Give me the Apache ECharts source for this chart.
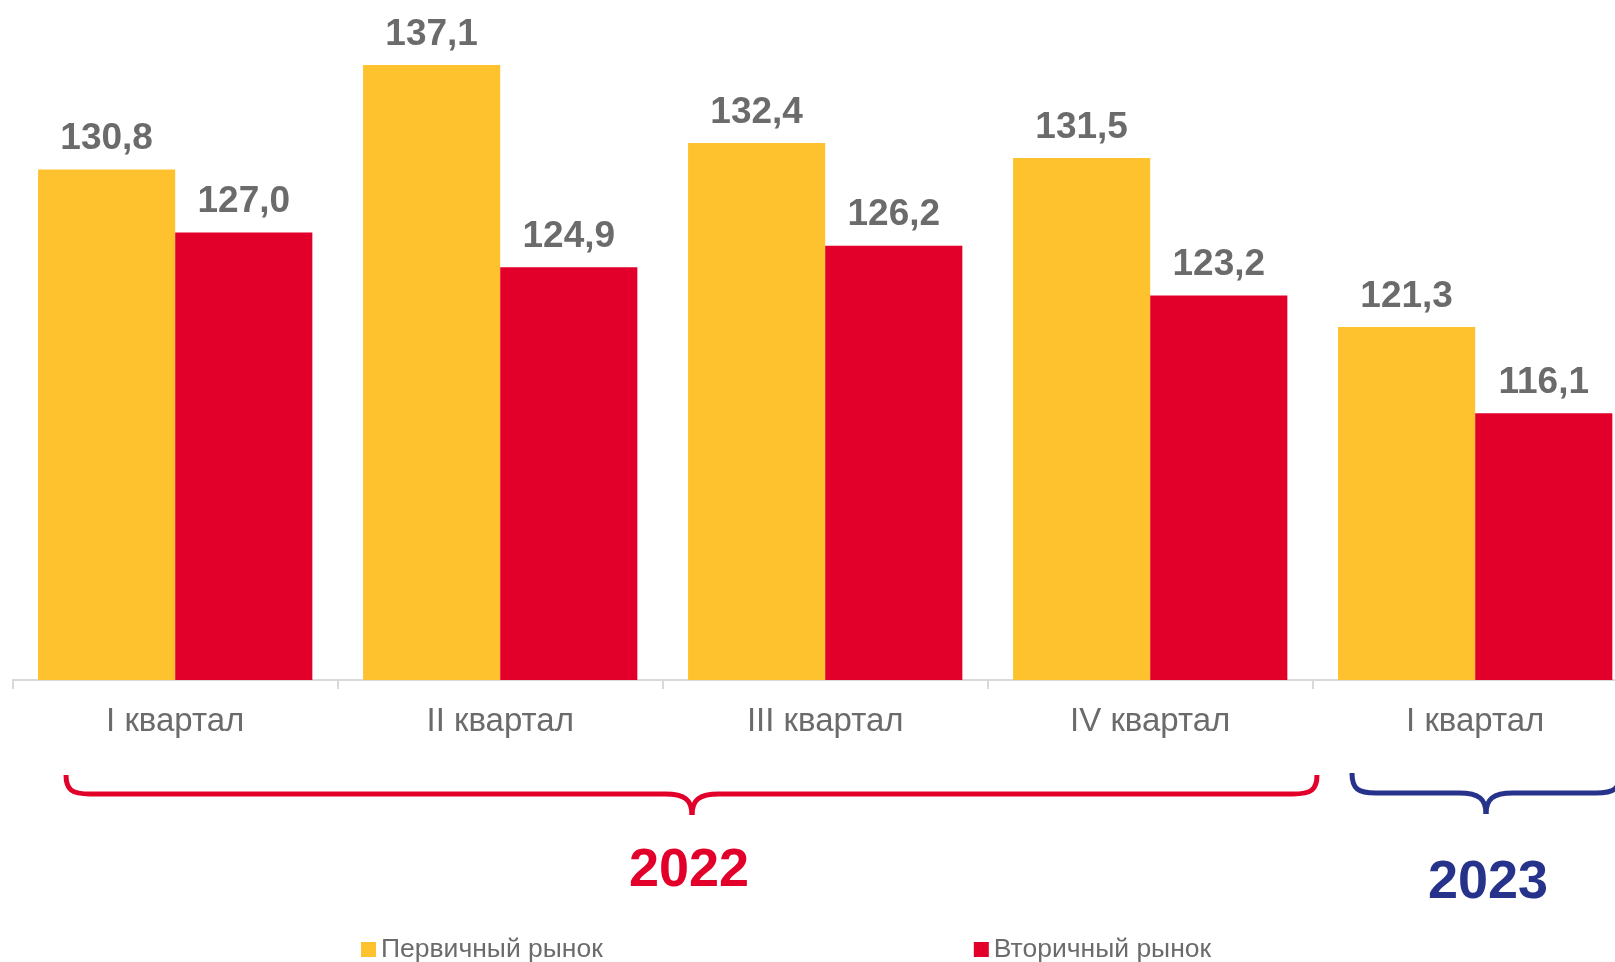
<!DOCTYPE html>
<html>
<head>
<meta charset="utf-8">
<script src="https://cdn.jsdelivr.net/npm/echarts@6.0.0/dist/echarts.min.js"></script>
<style>
  html, body { margin: 0; padding: 0; background: #fff; overflow: hidden; }
  /* график шире окна: последний столбец обрезается краем, как в оригинале */
  #chart { width: 1640px; height: 962px; }
</style>
</head>
<body>
<div id="chart"></div>
<script>
// данные
var quarters = ['I квартал', 'II квартал', 'III квартал', 'IV квартал', 'I квартал']
var primaryMarket = [130.8, 137.1, 132.4, 131.5, 121.3]
var secondaryMarket = [127.0, 124.9, 126.2, 123.2, 116.1]
var seriesNames = ['Первичный рынок', 'Вторичный рынок']
var years = ['2022', '2023']

var FONT = '"Liberation Sans", Arial, sans-serif'
var YELLOW = '#FFC22F'
var RED = '#E2002B'
var NAVY = '#27338A'

function fmt(v) {
  return v.toFixed(1).replace('.', ',')
}

// фигурная скобка из кривых и отрезков
function brace(x1, x2, xm, yTop, yLine, yTip, color) {
  var st = { fill: null, stroke: color, lineWidth: 5 }
  var r = 24
  return [
    { type: 'bezierCurve', shape: { x1: x1, y1: yTop, cpx1: x1, cpy1: yLine - 4, cpx2: x1 + 6, cpy2: yLine, x2: x1 + r, y2: yLine }, style: st },
    { type: 'line', shape: { x1: x1 + r, y1: yLine, x2: xm - 27, y2: yLine }, style: st },
    { type: 'bezierCurve', shape: { x1: xm - 27, y1: yLine, cpx1: xm - 7, cpy1: yLine, cpx2: xm, cpy2: yLine + 6, x2: xm, y2: yTip }, style: st },
    { type: 'bezierCurve', shape: { x1: xm, y1: yTip, cpx1: xm, cpy1: yLine + 6, cpx2: xm + 7, cpy2: yLine, x2: xm + 27, y2: yLine }, style: st },
    { type: 'line', shape: { x1: xm + 27, y1: yLine, x2: x2 - r, y2: yLine }, style: st },
    { type: 'bezierCurve', shape: { x1: x2 - r, y1: yLine, cpx1: x2 - 6, cpy1: yLine, cpx2: x2, cpy2: yLine - 4, x2: x2, y2: yTop }, style: st }
  ]
}

var barLabel = {
  show: true,
  position: 'top',
  distance: 12,
  color: '#6b6b6b',
  fontFamily: FONT,
  fontWeight: 'bold',
  fontSize: 37,
  formatter: function (p) { return fmt(p.value) }
}

var chart = echarts.init(document.getElementById('chart'))

var graphics = []
  .concat(brace(66, 1317, 692, 775, 794, 815, RED))
  .concat(brace(1352, 1620, 1486, 773, 793, 814, NAVY))
  .concat([
    {
      type: 'text',
      x: 689,
      y: 871,
      style: {
        text: years[0],
        fill: RED,
        font: 'bold 54px ' + FONT,
        textAlign: 'center',
        textVerticalAlign: 'middle'
      }
    },
    {
      type: 'text',
      x: 1488,
      y: 883,
      style: {
        text: years[1],
        fill: NAVY,
        font: 'bold 54px ' + FONT,
        textAlign: 'center',
        textVerticalAlign: 'middle'
      }
    }
  ])

chart.setOption({
  animation: false,
  textStyle: { fontFamily: FONT },
  grid: {
    left: 12.7,
    right: 2.3,
    top: 17,
    bottom: 282,
    containLabel: false
  },
  legend: {
    data: seriesNames,
    left: 361,
    top: 936,
    padding: 0,
    itemWidth: 15,
    itemHeight: 15,
    itemGap: 371,
    icon: 'rect',
    textStyle: {
      color: '#6b6b6b',
      fontSize: 26.5,
      fontFamily: FONT
    }
  },
  xAxis: {
    type: 'category',
    data: quarters,
    axisLine: { lineStyle: { color: '#d9d9d9', width: 2 } },
    axisTick: { show: true, length: 9, lineStyle: { color: '#d9d9d9', width: 2 } },
    axisLabel: {
      color: '#6b6b6b',
      fontSize: 33,
      fontFamily: FONT,
      margin: 25,
      interval: 0
    }
  },
  yAxis: {
    type: 'value',
    min: 100,
    max: 140,
    show: false,
    splitLine: { show: false }
  },
  series: [
    {
      name: seriesNames[0],
      type: 'bar',
      data: primaryMarket,
      barGap: '0%',
      barCategoryGap: '15.6%',
      itemStyle: { color: YELLOW },
      label: barLabel
    },
    {
      name: seriesNames[1],
      type: 'bar',
      data: secondaryMarket,
      itemStyle: { color: RED },
      label: barLabel
    }
  ],
  graphic: graphics
})
</script>
</body>
</html>
